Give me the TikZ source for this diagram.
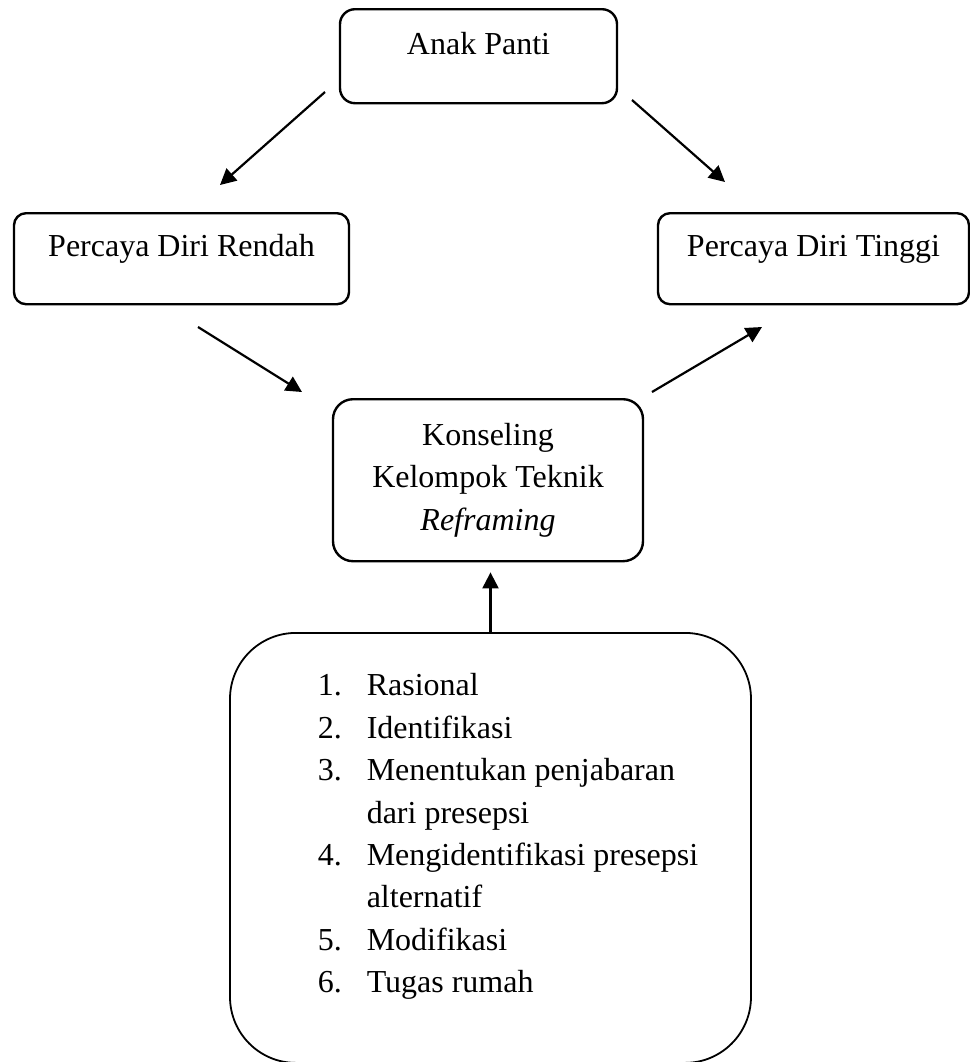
\documentclass[tikz,border=0pt]{standalone}
\usepackage{fontspec}
\setmainfont{Liberation Serif}
\usepackage{tikz}
\usetikzlibrary{positioning,arrows.meta}

\begin{document}
\begin{tikzpicture}[x=0.5pt, y=-0.5pt,
    box/.style={rectangle, draw, rounded corners=6pt, line width=1.2pt, inner ysep=0pt,
        font=\fontsize{16}{21.2}\selectfont},
    topbox/.style={box, anchor=north, text height=21.5pt, text depth=24pt},
    arrow/.style={-{Triangle[length=8pt,width=8pt]}, line width=1.1pt}]

    \useasboundingbox (0,0) rectangle (970,1062);

    \node[topbox, minimum width=138.5pt, text height=22.5pt, text depth=24.5pt, rounded corners=7.5pt] (panti) at (478.5,8) {Anak Panti};
    \node[topbox, minimum width=167.5pt] (rendah) at (181.5,212) {Percaya Diri Rendah};
    \node[topbox, minimum width=155.5pt] (tinggi) at (813.5,212) {Percaya Diri Tinggi};
    \node[box, anchor=north, align=center, minimum width=155pt, minimum height=81pt, rounded corners=10pt] (konseling) at (488,398)
        {Konseling\\Kelompok Teknik\\\textit{Reframing}};
    \node[box, anchor=north, line width=0.9pt, rounded corners=33pt, minimum width=260.5pt, minimum height=215pt, inner sep=0pt] (tahap) at (490.5,632)
        {\begin{tabular}{@{\hspace{17.5pt}}l@{\hspace{12.5pt}}l@{}}
            1. & Rasional\\
            2. & Identifikasi\\
            3. & Menentukan penjabaran\\
               & dari presepsi\\
            4. & Mengidentifikasi presepsi\\
               & alternatif\\
            5. & Modifikasi\\
            6. & Tugas rumah\\[12pt]
        \end{tabular}};

    \coordinate (pantiL) at (325,92);
    \coordinate (rendahT) at (220,185);
    \coordinate (pantiR) at (632,100);
    \coordinate (tinggiT) at (725,182);
    \coordinate (rendahB) at (198,327);
    \coordinate (konsL) at (302,392);
    \coordinate (konsR) at (652,392);
    \coordinate (tinggiB) at (762,327);

    \draw[arrow] (pantiL) -- (rendahT);
    \draw[arrow] (pantiR) -- (tinggiT);
    \draw[arrow] (rendahB) -- (konsL);
    \draw[arrow] (konsR) -- (tinggiB);
    \draw[arrow, shorten >=5pt] (tahap.north) -- (tahap.north |- konseling.south);
\end{tikzpicture}
\end{document}
